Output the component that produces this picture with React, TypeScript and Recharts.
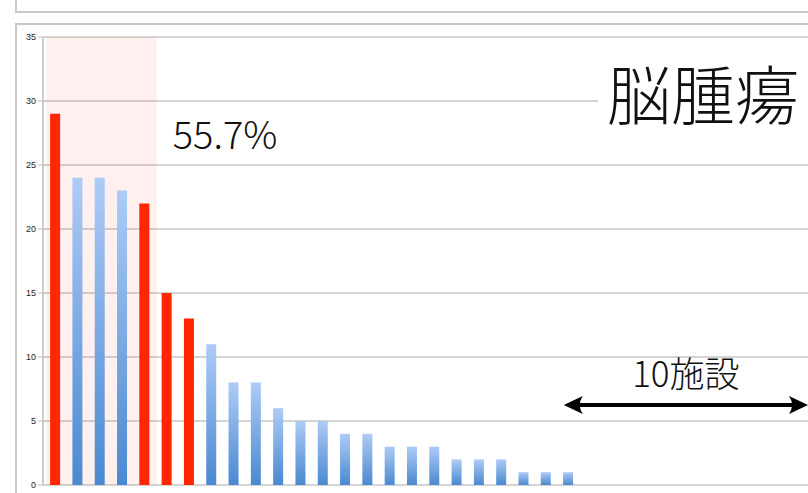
import { BarChart, Bar, XAxis, YAxis, CartesianGrid, ReferenceArea, ReferenceLine, Cell } from 'recharts';

// 施設別の症例数（多い順）。最後の10施設は0例。
const facilities = [
  'A', 'B', 'C', 'D', 'E', 'F', 'G', 'H', 'I', 'J', 'K', 'L',
  'M', 'N', 'O', 'P', 'Q', 'R', 'S', 'T', 'U', 'V', 'W', 'X',
  'Y', 'Z', 'AA', 'AB', 'AC', 'AD', 'AE', 'AF', 'AG', 'AH',
];
const cases = [
  29, 24, 24, 23, 22, 15, 13, 11, 8, 8, 6, 5, 5, 4, 4, 3, 3, 3, 2, 2, 2, 1, 1, 1,
  0, 0, 0, 0, 0, 0, 0, 0, 0, 0,
];
const highlighted = ['A', 'E', 'F', 'G'];
const yTicks = [0, 5, 10, 15, 20, 25, 30, 35];

const TOP_N = 5;
const X_DOMAIN: [number, number] = [0.45, 34.75];
const ARROW_Y = 6.25;

const data = facilities.map((name, i) => ({ rank: i + 1, name, cases: cases[i] }));
const total = cases.reduce((s, v) => s + v, 0);
const topShare = ((cases.slice(0, TOP_N).reduce((s, v) => s + v, 0) / total) * 100).toFixed(1);
const activeCount = cases.filter((v) => v > 0).length;
const idleCount = cases.length - activeCount;

const JP = '"Noto Sans CJK JP", "Noto Sans", sans-serif';
const FRAME = '#c9c9c9';

const ShareLabel = (props: any) => {
  const { x, y, width } = props.viewBox;
  return (
    <text x={x + width + 16} y={y + 112} fontFamily={JP} fontWeight={300} fontSize={38} fill="#111">
      {topShare}%
    </text>
  );
};

const SpanArrow = (props: any) => {
  const { x1, x2, y1 } = props;
  const y = y1;
  const head = 19;
  return (
    <g>
      <line x1={x1 + 8} y1={y} x2={x2 - 8} y2={y} stroke="#000" strokeWidth={4} />
      <path d={`M${x2},${y} L${x2 - head},${y - 9} Q${x2 - head + 6},${y} ${x2 - head},${y + 9} Z`} fill="#000" />
      <path d={`M${x1},${y} L${x1 + head},${y - 9} Q${x1 + head - 6},${y} ${x1 + head},${y + 9} Z`} fill="#000" />
      <text x={(x1 + x2) / 2} y={y - 18} textAnchor="middle" fontFamily={JP} fontWeight={300} fontSize={35} fill="#111">
        {idleCount}施設
      </text>
    </g>
  );
};

export default function App() {
  return (
    <div style={{ position: 'absolute', left: 0, top: 0, width: 808, height: 493, background: '#fff', overflow: 'hidden' }}>
      {/* panel frames */}
      <div style={{ position: 'absolute', left: 15, top: -2, width: 800, height: 13, borderLeft: `2px solid ${FRAME}`, borderBottom: `2px solid ${FRAME}` }} />
      <div style={{ position: 'absolute', left: 15, top: 23, width: 800, height: 480, borderLeft: `2px solid ${FRAME}`, borderTop: `2px solid ${FRAME}` }} />

      <BarChart
        width={808}
        height={493}
        data={data}
        margin={{ top: 37, right: 0, bottom: 8, left: 13 }}
        style={{ position: 'absolute', left: 0, top: 0 }}
      >
        <defs>
          <linearGradient id="blueBar" x1="0" y1="0" x2="0" y2="1">
            <stop offset="0%" stopColor="#aecbf6" />
            <stop offset="100%" stopColor="#4a89d0" />
          </linearGradient>
        </defs>
        <CartesianGrid vertical={false} stroke="#c6c6c6" strokeWidth={1.5} />
        <XAxis type="number" dataKey="rank" domain={X_DOMAIN} allowDataOverflow hide />
        <YAxis
          width={30}
          domain={[0, 35]}
          ticks={yTicks}
          interval={0}
          axisLine={{ stroke: '#bdbdbd', strokeWidth: 1.5 }}
          tickLine={{ stroke: '#bdbdbd' }}
          tickSize={5}
          tick={{ fontSize: 9, fill: '#222', fontFamily: '"Liberation Sans", Arial, sans-serif' }}
        />
        <ReferenceArea x1={0.6} x2={TOP_N + 0.55} fill="#ff0000" fillOpacity={0.06} stroke="none" label={<ShareLabel />} />
        <Bar dataKey="cases" barSize={10} isAnimationActive={false}>
          {data.map((d) => (
            <Cell key={d.name} fill={highlighted.includes(d.name) ? '#ff2600' : 'url(#blueBar)'} />
          ))}
        </Bar>
        <ReferenceLine
          segment={[
            { x: activeCount - 0.2, y: ARROW_Y },
            { x: X_DOMAIN[1], y: ARROW_Y },
          ]}
          ifOverflow="visible"
          shape={<SpanArrow />}
        />
      </BarChart>

      {/* 疾患名 */}
      <div
        style={{
          position: 'absolute',
          left: 598,
          top: 52,
          width: 220,
          height: 78,
          paddingLeft: 9,
          background: '#fff',
          fontFamily: JP,
          fontWeight: 300,
          fontSize: 64,
          lineHeight: '78px',
          color: '#111',
          boxSizing: 'border-box',
        }}
      >
        脳腫瘍
      </div>
    </div>
  );
}
